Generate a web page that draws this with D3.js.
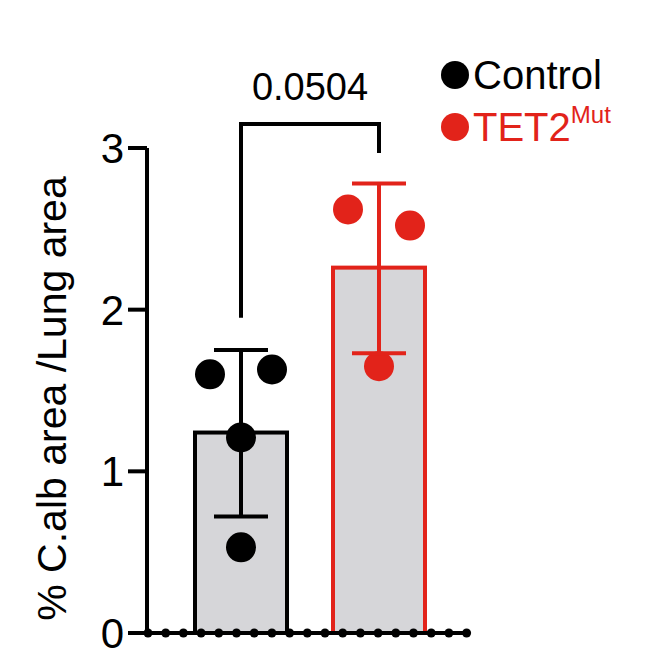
<!DOCTYPE html>
<html><head><meta charset="utf-8">
<script src="https://cdn.jsdelivr.net/npm/d3@7"></script>
<style>body{margin:0;background:#fff}</style>
</head><body>
<svg id="svg" width="650" height="657"></svg>
<script>
const groups = ["Control", "TET2"];
const means = [1.24, 2.26];
const sdLow = [0.72, 1.73];
const sdHigh = [1.75, 2.78];
const colors = ["#000000", "#e2231a"];
const points = [
  [1.60, 1.63, 1.21, 0.53],
  [2.62, 2.52, 1.65]
];
const jitter = [[-1, 1, 0, 0], [-1, 1, 0]];
const yTicks = [0, 1, 2, 3];
const pValue = "0.0504";

const svg = d3.select("#svg");
const font = "Helvetica, Arial, 'Liberation Sans', sans-serif";
const y = d3.scaleLinear().domain([0, 3]).range([633, 148]);
const x = d3.scaleBand().domain(groups).range([172, 448]).paddingInner(1 / 3).paddingOuter(1 / 6);
const bw = x.bandwidth();

// bars
groups.forEach((g, i) => {
  svg.append("rect")
    .attr("x", x(g)).attr("y", y(means[i]))
    .attr("width", bw).attr("height", y(0) - y(means[i]))
    .attr("fill", "#d6d6d9").attr("stroke", colors[i]).attr("stroke-width", 4);
});

// points
groups.forEach((g, i) => {
  const cx = x(g) + bw / 2;
  points[i].forEach((v, j) => {
    svg.append("circle")
      .attr("cx", cx + jitter[i][j] * 31).attr("cy", y(v)).attr("r", 15)
      .attr("fill", colors[i]);
  });
});

// error bars
groups.forEach((g, i) => {
  const cx = x(g) + bw / 2;
  const e = svg.append("g").attr("stroke", colors[i]).attr("stroke-width", 4);
  e.append("line").attr("x1", cx).attr("x2", cx).attr("y1", y(sdLow[i])).attr("y2", y(sdHigh[i]));
  [sdLow[i], sdHigh[i]].forEach(v => e.append("line")
    .attr("x1", cx - 27).attr("x2", cx + 27).attr("y1", y(v)).attr("y2", y(v)));
});

// y axis
const ax = svg.append("g");
ax.append("line").attr("x1", 147).attr("x2", 147).attr("y1", y(3)).attr("y2", y(0))
  .attr("stroke", "#000").attr("stroke-width", 4);
yTicks.forEach(t => {
  ax.append("line").attr("x1", 128).attr("x2", 147).attr("y1", y(t)).attr("y2", y(t))
    .attr("stroke", "#000").attr("stroke-width", 4);
  ax.append("text").attr("x", 124).attr("y", y(t)).attr("dy", "0.36em")
    .attr("text-anchor", "end").attr("font-family", font).attr("font-size", 42).text(t);
});

// x axis with dots
ax.append("line").attr("x1", 128).attr("x2", 467).attr("y1", y(0)).attr("y2", y(0))
  .attr("stroke", "#000").attr("stroke-width", 4);
d3.range(0, 19).forEach(k => {
  ax.append("circle").attr("cx", 148 + k * 17.7).attr("cy", y(0)).attr("r", 4.5).attr("fill", "#000");
});

// y label
svg.append("text")
  .attr("transform", `translate(66, ${y(1.5) + 8}) rotate(-90)`)
  .attr("text-anchor", "middle").attr("font-family", font).attr("font-size", 41)
  .text("% C.alb area /Lung area");

// significance bracket
const c0 = x("Control") + bw / 2, c1 = x("TET2") + bw / 2;
svg.append("path")
  .attr("d", `M${c0},${y(1.95)}V124H${c1}V153`)
  .attr("fill", "none").attr("stroke", "#000").attr("stroke-width", 4);
svg.append("text").attr("x", (c0 + c1) / 2).attr("y", 100).attr("text-anchor", "middle")
  .attr("font-family", font).attr("font-size", 38).text(pValue);

// legend
const lg = svg.append("g").attr("font-family", font).attr("font-size", 40);
lg.append("circle").attr("cx", 455).attr("cy", 75).attr("r", 14).attr("fill", colors[0]);
lg.append("text").attr("x", 473).attr("y", 89).text("Control");
lg.append("circle").attr("cx", 455).attr("cy", 127).attr("r", 14).attr("fill", colors[1]);
const t2 = lg.append("text").attr("x", 473).attr("y", 141).attr("fill", colors[1]);
t2.append("tspan").text("TET2");
t2.append("tspan").attr("font-size", 24).attr("dy", -18).text("Mut");
</script>
</body></html>
